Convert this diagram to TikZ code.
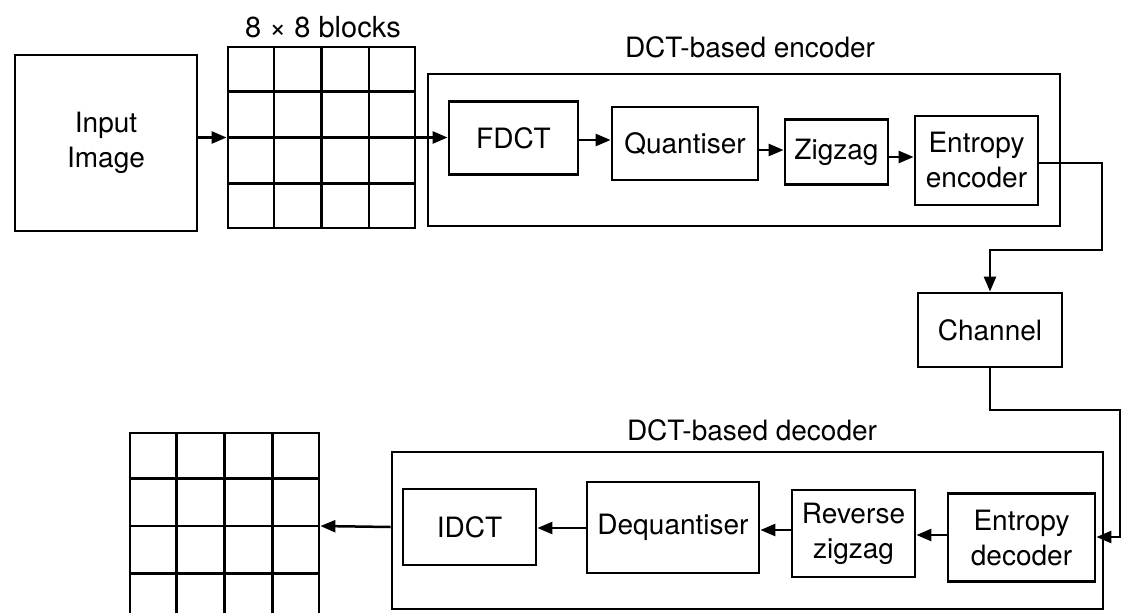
\documentclass[tikz,border=0pt]{standalone}
\usepackage{fontspec}
\setmainfont{TeX Gyre Heros}
\usetikzlibrary{arrows.meta,calc}
\begin{document}
\begin{tikzpicture}[x=1pt,y=-1pt,
  box/.style={draw,line width=2.8pt,inner sep=0pt,align=center,
    font=\fontsize{28}{35}\selectfont},
  frame/.style={draw,line width=2.8pt,inner sep=0pt},
  gline/.style={line width=2.8pt},
  lbl/.style={inner sep=0pt,font=\fontsize{28}{35}\selectfont},
  conn/.style={line width=2.5pt,-{Triangle[length=15pt,width=12pt]}},
  wire/.style={line width=2.5pt}]
\useasboundingbox (0,0) rectangle (1122,613);
\clip (0,0) rectangle (1122,613);
\fill[white] (0,0) rectangle (1122,613);

% input image and 8x8 block grid
\node[box,minimum width=182pt,minimum height=176pt] (inp) at (106,143) {Input\\Image};
\node[frame,minimum width=187pt,minimum height=181pt] (g1) at (321.5,137.5) {};
\node[lbl,font=\fontsize{29}{35}\selectfont] (blk) at (323,27) {8 × 8 blocks};
\foreach \i in {1,2,3}{
  \draw[gline] ($(g1.north west)!\i/4!(g1.north east)$) -- ($(g1.south west)!\i/4!(g1.south east)$);
  \draw[gline] ($(g1.north west)!\i/4!(g1.south west)$) -- ($(g1.north east)!\i/4!(g1.south east)$);
}

% encoder
\node[frame,minimum width=632pt,minimum height=152pt] (enc) at (744,150) {};
\node[lbl] (enclbl) at (750,47) {DCT-based encoder};
\node[box,minimum width=129pt,minimum height=73pt] (fdct) at (513.5,138) {FDCT};
\node[box,minimum width=146pt,minimum height=73pt] (quant) at (685,143.5) {Quantiser};
\node[box,minimum width=103pt,minimum height=65pt] (zz) at (836.5,152) {Zigzag};
\node[box,minimum width=123pt,minimum height=89pt] (ee) at (976.5,160.5) {Entropy\\encoder};

% channel
\node[box,minimum width=144pt,minimum height=74pt] (ch) at (990,330) {Channel};

% decoder
\node[frame,minimum width=711pt,minimum height=157pt] (dec) at (747.5,530.5) {};
\node[lbl] (declbl) at (752,430) {DCT-based decoder};
\node[box,minimum width=133pt,minimum height=76pt] (idct) at (469.5,527) {IDCT};
\node[box,minimum width=172pt,minimum height=91pt] (deq) at (673,527.5) {Dequantiser};
\node[box,minimum width=123pt,minimum height=87pt] (rz) at (853.5,533.5) {Reverse\\zigzag};
\node[box,minimum width=147pt,minimum height=88pt] (ed) at (1021.5,537.5) {Entropy\\decoder};

% output grid
\node[frame,minimum width=189pt,minimum height=186pt] (g2) at (224.5,526) {};
\foreach \i in {1,2,3}{
  \draw[gline] ($(g2.north west)!\i/4!(g2.north east)$) -- ($(g2.south west)!\i/4!(g2.south east)$);
  \draw[gline] ($(g2.north west)!\i/4!(g2.south west)$) -- ($(g2.north east)!\i/4!(g2.south east)$);
}

% connectors
\draw[conn] (inp.east |- g1.center) -- (g1.west);
\draw[conn] (g1.east) -- (fdct.west |- g1.east);
\draw[conn] (fdct.east |- 0,140) -- (quant.west |- 0,140);
\draw[conn] (quant.east |- 0,150) -- (zz.west |- 0,150);
\draw[conn] (zz.east |- 0,157) -- (ee.west |- 0,157);
\coordinate (c1) at (1102,250);
\draw[conn] (ee.east |- 0,163) -| (c1) -| (ch.north);
\coordinate (c2) at (1120,410);
\draw[conn] (ch.south) |- (c2) |- (ed.east |- 0,537);
\draw[conn] (ed.west |- 0,535) -- (rz.east |- 0,535);
\draw[conn] (rz.west |- 0,530) -- (deq.east |- 0,530);
\draw[conn] (deq.west |- 0,528) -- (idct.east |- 0,528);
\draw[conn] (dec.west |- 0,527) -- (g2.east);
\end{tikzpicture}
\end{document}
